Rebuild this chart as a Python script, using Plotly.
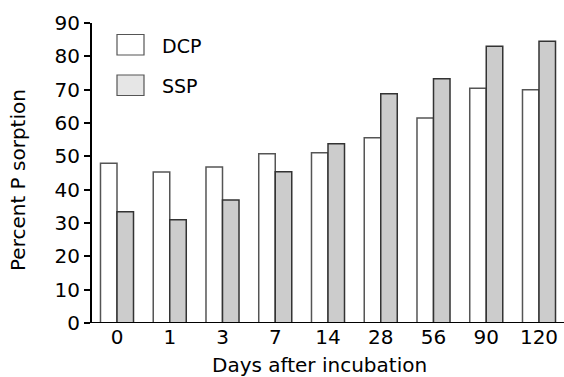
import plotly.graph_objects as go

days = ["0", "1", "3", "7", "14", "28", "56", "90", "120"]
dcp = [47.9, 45.3, 46.8, 50.8, 51.1, 55.6, 61.5, 70.4, 70.0]
ssp = [33.4, 31.0, 36.9, 45.4, 53.8, 68.8, 73.3, 83.0, 84.5]
y_ticks = [0, 10, 20, 30, 40, 50, 60, 70, 80, 90]

FONT = "DejaVu Sans, Verdana, sans-serif"

fig = go.Figure()
fig.add_trace(go.Bar(x=days, y=dcp, name="DCP",
                     marker=dict(color="white", line=dict(color="#555555", width=1.5)),
                     showlegend=False))
fig.add_trace(go.Bar(x=days, y=ssp, name="SSP",
                     marker=dict(color="#cccccc", line=dict(color="#333333", width=1.5)),
                     showlegend=False))

W, H = 564, 377
L, R, T, B = 92, 0, 23, 54
pw = W - L - R
ph = H - T - B

fig.update_layout(
    width=W, height=H,
    margin=dict(l=L, r=R, t=T, b=B, autoexpand=False),
    paper_bgcolor="white", plot_bgcolor="white",
    barmode="group", bargap=0.374, bargroupgap=0,
    font=dict(family=FONT, size=20, color="black"),
    xaxis=dict(type="category", range=[-0.474, 8.474], showgrid=False,
               showline=False, ticks="", tickfont=dict(size=20),
               zeroline=False, automargin=False),
    yaxis=dict(range=[0, 90], tickvals=y_ticks, showgrid=False,
               showline=True, linecolor="black", linewidth=2,
               ticks="outside", ticklen=6, tickwidth=1.5, tickcolor="black",
               tickfont=dict(size=20), zeroline=False, automargin=False),
)

# x-axis baseline extending slightly left of y-axis
fig.add_shape(type="line", xref="paper", yref="y", x0=-7/pw, x1=1, y0=0, y1=0,
              line=dict(color="black", width=2))

def px_x(x):
    return (x - L) / pw

def px_y(y):
    return 1 - (y - T) / ph

# legend boxes
fig.add_shape(type="rect", xref="paper", yref="paper",
              x0=px_x(117), x1=px_x(144), y0=px_y(55), y1=px_y(34.5),
              line=dict(color="#555555", width=1.2), fillcolor="white")
fig.add_shape(type="rect", xref="paper", yref="paper",
              x0=px_x(117), x1=px_x(144), y0=px_y(95.5), y1=px_y(75),
              line=dict(color="#555555", width=1.2), fillcolor="#e6e6e6")
fig.add_annotation(text="DCP", xref="paper", yref="paper", x=px_x(160), y=px_y(46),
                   xanchor="left", yanchor="middle", showarrow=False,
                   font=dict(size=19, family=FONT))
fig.add_annotation(text="SSP", xref="paper", yref="paper", x=px_x(160), y=px_y(86),
                   xanchor="left", yanchor="middle", showarrow=False,
                   font=dict(size=19, family=FONT))

# axis titles
fig.add_annotation(text="Days after incubation", xref="paper", yref="paper",
                   x=px_x(319), y=px_y(379), xanchor="center", yanchor="bottom",
                   showarrow=False, font=dict(size=20, family=FONT))
fig.add_annotation(text="Percent P sorption", xref="paper", yref="paper",
                   x=px_x(18), y=px_y(180), xanchor="center", yanchor="middle",
                   textangle=-90, showarrow=False, font=dict(size=20, family=FONT))

fig.write_html("out.html", config={"displayModeBar": False},
               post_script="document.body.style.margin='0';document.body.style.overflow='hidden';")
